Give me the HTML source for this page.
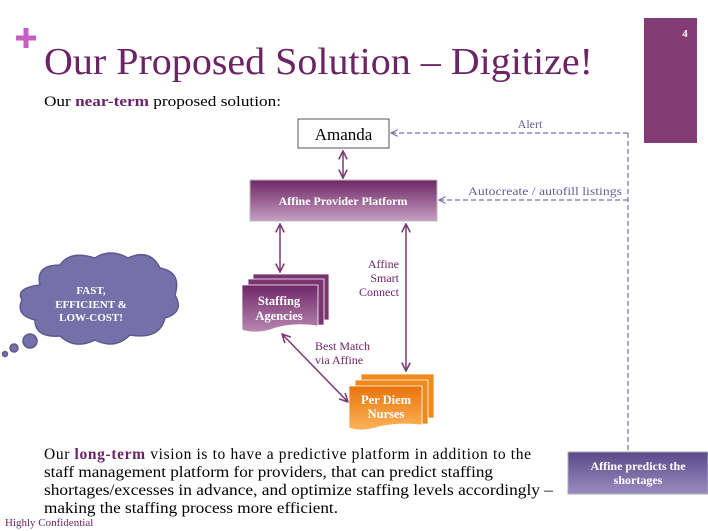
<!DOCTYPE html>
<html><head><meta charset="utf-8"><style>
html,body{margin:0;padding:0;background:#fff;}
svg{display:block;}
text{font-family:"Liberation Serif",serif;}
</style></head><body>
<svg width="708" height="531" viewBox="0 0 708 531" xmlns="http://www.w3.org/2000/svg">
<defs>
<linearGradient id="pg" x1="0" y1="0" x2="0" y2="1"><stop offset="0" stop-color="#6e2766"/><stop offset="1" stop-color="#c59ec0"/></linearGradient>
<linearGradient id="sg" x1="0" y1="0" x2="0" y2="1"><stop offset="0" stop-color="#6e2766"/><stop offset="1" stop-color="#b888b2"/></linearGradient>
<linearGradient id="og" x1="0" y1="0" x2="0" y2="1"><stop offset="0" stop-color="#e8730a"/><stop offset="1" stop-color="#fbb45a"/></linearGradient>
<linearGradient id="bg" x1="0" y1="0" x2="0" y2="1"><stop offset="0" stop-color="#5a4a8a"/><stop offset="1" stop-color="#9a8cc0"/></linearGradient>
<marker id="a" viewBox="0 0 10 10" refX="9" refY="5" markerWidth="7" markerHeight="7" orient="auto-start-reverse"><path d="M1 1 L9 5 L1 9" fill="none" stroke="#7a3a74" stroke-width="1.5"/></marker>
<marker id="d" viewBox="0 0 10 10" refX="9" refY="5" markerWidth="7" markerHeight="7" orient="auto"><path d="M1 1 L9 5 L1 9" fill="none" stroke="#7a70aa" stroke-width="1.3"/></marker>
</defs>
<rect x="644" y="18" width="53" height="125" fill="#823b75"/>
<text x="685" y="37" font-size="11" font-weight="bold" fill="#fff" text-anchor="middle">4</text>
<path d="M26 28 V48 M16 38 H36" stroke="#c55fc0" stroke-width="5"/>
<text x="44" y="74" font-size="38" fill="#6b2466" textLength="549" lengthAdjust="spacingAndGlyphs">Our Proposed Solution – Digitize!</text>
<text x="44" y="106" font-size="15" fill="#000" textLength="237" lengthAdjust="spacingAndGlyphs">Our <tspan fill="#6b2466" font-weight="bold">near-term</tspan> proposed solution:</text>
<rect x="298" y="119" width="91" height="29" fill="#fff" stroke="#555" stroke-width="1"/>
<text x="343.5" y="140" font-size="17" text-anchor="middle" fill="#000">Amanda</text>
<rect x="250" y="180" width="187" height="41" fill="url(#pg)" stroke="#bbb"/>
<text x="343" y="205" font-size="12" font-weight="bold" fill="#fff" text-anchor="middle">Affine Provider Platform</text>
<line x1="343" y1="151" x2="343" y2="178" stroke="#7a3a74" stroke-width="1.5" marker-start="url(#a)" marker-end="url(#a)"/>
<line x1="280" y1="224" x2="280" y2="272" stroke="#7a3a74" stroke-width="1.5" marker-start="url(#a)" marker-end="url(#a)"/>
<line x1="406" y1="224" x2="406" y2="371" stroke="#7a3a74" stroke-width="1.5" marker-start="url(#a)" marker-end="url(#a)"/>
<line x1="282" y1="334" x2="348" y2="402" stroke="#7a3a74" stroke-width="1.5" marker-start="url(#a)" marker-end="url(#a)"/>
<path d="M628 133 V452" stroke="#7a70aa" stroke-width="1.2" stroke-dasharray="5,3" fill="none"/>
<line x1="628" y1="133" x2="391" y2="133" stroke="#7a70aa" stroke-width="1.2" stroke-dasharray="5,3" marker-end="url(#d)"/>
<line x1="628" y1="200" x2="439" y2="200" stroke="#7a70aa" stroke-width="1.2" stroke-dasharray="5,3" marker-end="url(#d)"/>
<text x="530" y="128" font-size="12" fill="#6a5a9a" text-anchor="middle">Alert</text>
<text x="468" y="195" font-size="12" fill="#6a5a9a" textLength="154" lengthAdjust="spacingAndGlyphs">Autocreate / autofill listings</text>
<text font-size="12" fill="#6b2466" text-anchor="end"><tspan x="399" y="268">Affine</tspan><tspan x="399" y="282">Smart</tspan><tspan x="399" y="296">Connect</tspan></text>
<text font-size="12" fill="#6b2466"><tspan x="315" y="350">Best Match</tspan><tspan x="315" y="364">via Affine</tspan></text>
<g stroke="#fff" stroke-width="0.8">
<path d="M253 274 H329 V320 H253 Z" fill="#7a3470"/>
<path d="M248 279 H324 V325 H248 Z" fill="#7a3470"/>
<path d="M242 285 H318 V326 Q290 322 270 330 Q255 334 242 330 Z" fill="url(#sg)"/>
</g>
<text font-size="12.5" font-weight="bold" fill="#fff" text-anchor="middle"><tspan x="279" y="305">Staffing</tspan><tspan x="279" y="320">Agencies</tspan></text>
<g stroke="#fff" stroke-width="0.8">
<path d="M361 374 H434 V418 H361 Z" fill="#f08a1c"/>
<path d="M355 380 H428 V424 H355 Z" fill="#f08a1c"/>
<path d="M349 386 H422 V425 Q395 422 375 428 Q360 432 349 428 Z" fill="url(#og)"/>
</g>
<text font-size="12.5" font-weight="bold" fill="#fff" text-anchor="middle"><tspan x="386" y="404">Per Diem</tspan><tspan x="386" y="418">Nurses</tspan></text>
<g fill="#7470a8" stroke="#5d5a90" stroke-width="1.5">
<path d="M40 285 Q35 265 60 265 Q70 250 95 258 Q110 248 128 258 Q150 248 160 268 Q182 272 175 295 Q185 312 165 318 Q160 340 130 335 Q115 350 95 340 Q75 350 60 336 Q35 338 35 320 Q15 315 22 300 Q15 288 40 285 Z"/>
<circle cx="30" cy="341" r="7"/>
<circle cx="14" cy="348" r="4"/>
<circle cx="5" cy="354" r="2.5"/>
</g>
<text font-size="11" font-weight="bold" fill="#fff" text-anchor="middle"><tspan x="91" y="294">FAST,</tspan><tspan x="91" y="308">EFFICIENT &amp;</tspan><tspan x="91" y="321">LOW-COST!</tspan></text>
<rect x="568" y="452" width="140" height="42" fill="url(#bg)" stroke="#aaa"/>
<text font-size="12" font-weight="bold" fill="#fff" text-anchor="middle"><tspan x="638" y="470">Affine predicts the</tspan><tspan x="638" y="484">shortages</tspan></text>
<text font-size="15.5" fill="#000" lengthAdjust="spacingAndGlyphs">
<tspan x="44" y="459" textLength="487">Our <tspan fill="#6b2466" font-weight="bold">long-term</tspan> vision is to have a predictive platform in addition to the</tspan>
</text>
<text x="44" y="477" font-size="15.5" fill="#000" textLength="449" lengthAdjust="spacingAndGlyphs">staff management platform for providers, that can predict staffing</text>
<text x="44" y="495" font-size="15.5" fill="#000" textLength="509" lengthAdjust="spacingAndGlyphs">shortages/excesses in advance, and optimize staffing levels accordingly –</text>
<text x="44" y="513" font-size="15.5" fill="#000" textLength="294" lengthAdjust="spacingAndGlyphs">making the staffing process more efficient.</text>
<text x="5" y="526" font-size="11" fill="#6b2466">Highly Confidential</text>
</svg>
</body></html>
